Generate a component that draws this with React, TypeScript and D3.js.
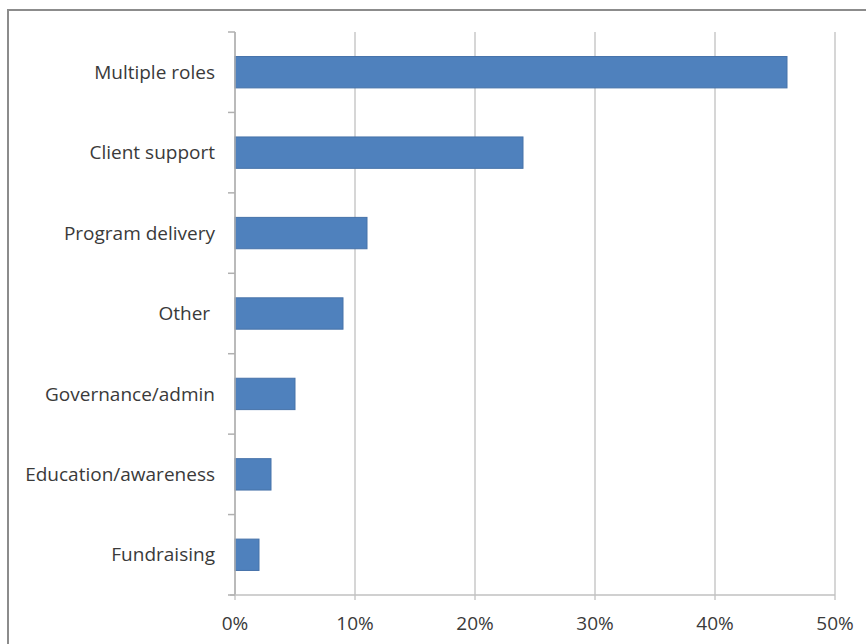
import React from "react";
import * as d3 from "d3";

const categories = [
  "Multiple roles",
  "Client support",
  "Program delivery",
  "Other ",
  "Governance/admin",
  "Education/awareness",
  "Fundraising",
];
const values = [46, 24, 11, 9, 5, 3, 2];
const xTicks = [0, 10, 20, 30, 40, 50];

const W = 866;
const H = 644;
const plot = { left: 235, right: 835, top: 32, bottom: 595 };
const FONT = "'Open Sans', 'Liberation Sans', sans-serif";

export default function App() {
  const x = d3.scaleLinear().domain([0, 50]).range([plot.left, plot.right]);
  const y = d3
    .scaleBand<string>()
    .domain(categories)
    .range([plot.top, plot.bottom])
    .paddingInner(0.61)
    .paddingOuter(0.305);
  const step = y.step();
  const boundaries = d3.range(categories.length + 1).map((i) => plot.top + i * step);

  return (
    <svg
      width={W}
      height={H}
      style={{ position: "absolute", left: 0, top: 0, background: "#fff" }}
    >
      <rect x={8} y={10} width={W} height={H} fill="#fff" stroke="#8c8c8c" strokeWidth={2} />
      {xTicks.map((t) => (
        <line
          key={"g" + t}
          x1={x(t)}
          x2={x(t)}
          y1={plot.top}
          y2={plot.bottom + 5}
          stroke="#c8c8c8"
          strokeWidth={1.5}
        />
      ))}
      {categories.map((c, i) => (
        <rect
          key={c}
          x={x(0)}
          y={y(c)}
          width={x(values[i]) - x(0)}
          height={y.bandwidth()}
          fill="#4F81BD"
          stroke="#4672A9"
          strokeWidth={1}
        />
      ))}
      <line x1={plot.left} x2={plot.left} y1={plot.top} y2={plot.bottom} stroke="#b0b0b0" strokeWidth={1.5} />
      <line x1={plot.left - 5} x2={plot.right} y1={plot.bottom} y2={plot.bottom} stroke="#c0c0c0" strokeWidth={1.5} />
      {boundaries.map((b, i) => (
        <line key={"t" + i} x1={plot.left - 7} x2={plot.left} y1={b} y2={b} stroke="#b0b0b0" strokeWidth={1.5} />
      ))}
      {categories.map((c) => (
        <text
          key={"l" + c}
          x={215}
          y={(y(c) as number) + y.bandwidth() / 2}
          dy="0.35em"
          textAnchor="end"
          fontFamily={FONT}
          fontSize={19}
          fill="#3a3a3a"
          style={{ whiteSpace: "pre" }}
        >
          {c}
        </text>
      ))}
      {xTicks.map((t) => (
        <text
          key={"x" + t}
          x={x(t)}
          y={630}
          textAnchor="middle"
          fontFamily={FONT}
          fontSize={19}
          fill="#3a3a3a"
        >
          {t + "%"}
        </text>
      ))}
    </svg>
  );
}
